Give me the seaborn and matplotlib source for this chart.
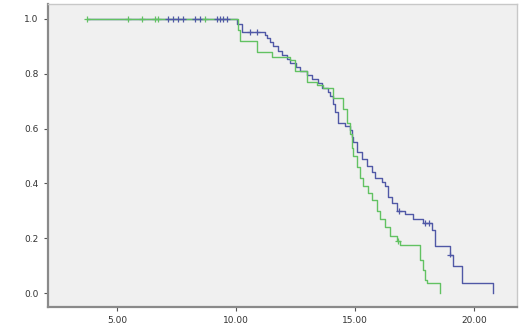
import matplotlib
matplotlib.use('Agg')
import matplotlib.pyplot as plt
import numpy as np
import pandas as pd
import seaborn as sns

# survival steps (time, cumulative survival after the step)
blue_time = [3.78, 10.04, 10.25, 11.22, 11.30, 11.43, 11.55, 11.76, 11.93, 12.14, 12.27,
             12.52, 12.69, 12.98, 13.19, 13.45, 13.61, 13.87, 13.95, 14.08, 14.16, 14.29,
             14.58, 14.79, 14.87, 14.92, 15.08, 15.29, 15.50, 15.71, 15.84, 16.13, 16.26,
             16.39, 16.55, 16.76, 17.10, 17.44, 17.86, 18.24, 18.36, 18.99, 19.12, 19.50, 20.80]
blue_surv = [1.0, 0.98, 0.953, 0.94, 0.93, 0.915, 0.90, 0.885, 0.87, 0.855, 0.84,
             0.825, 0.81, 0.795, 0.78, 0.765, 0.75, 0.735, 0.72, 0.69, 0.66, 0.62,
             0.61, 0.595, 0.57, 0.55, 0.515, 0.49, 0.465, 0.44, 0.42, 0.405, 0.39,
             0.35, 0.33, 0.30, 0.29, 0.27, 0.255, 0.23, 0.17, 0.14, 0.10, 0.036, 0.0]

green_time = [3.74, 10.08, 10.17, 10.88, 11.51, 12.27, 12.48, 12.98, 13.40, 13.66, 14.08,
              14.50, 14.66, 14.79, 14.87, 14.92, 15.08, 15.21, 15.34, 15.55, 15.71, 15.92,
              16.05, 16.26, 16.47, 16.76, 16.89, 17.73, 17.86, 17.94, 18.03, 18.57]
green_surv = [1.0, 0.96, 0.92, 0.88, 0.86, 0.85, 0.81, 0.77, 0.76, 0.75, 0.71,
              0.67, 0.62, 0.58, 0.53, 0.50, 0.46, 0.42, 0.39, 0.365, 0.34, 0.30,
              0.27, 0.24, 0.21, 0.19, 0.175, 0.12, 0.085, 0.047, 0.036, 0.0]

# censored cases
blue_cens_time = [7.14, 7.35, 7.56, 7.77, 8.28, 8.49, 9.20, 9.33, 9.45, 9.62, 10.6, 10.9,
                  16.85, 17.95, 18.1, 19.0]
blue_cens_surv = [1.0, 1.0, 1.0, 1.0, 1.0, 1.0, 1.0, 1.0, 1.0, 1.0, 0.953, 0.953,
                  0.30, 0.255, 0.255, 0.14]
green_cens_time = [3.74, 5.46, 6.05, 6.60, 6.72, 8.70, 16.80]
green_cens_surv = [1.0, 1.0, 1.0, 1.0, 1.0, 1.0, 0.19]

xticks = [5, 10, 15, 20]
yticks = [0.0, 0.2, 0.4, 0.6, 0.8, 1.0]

blue = '#5058a6'
green = '#62c262'

steps = pd.concat([
    pd.DataFrame({'time': blue_time, 'surv': blue_surv, 'group': 'b'}),
    pd.DataFrame({'time': green_time, 'surv': green_surv, 'group': 'g'}),
], ignore_index=True)
cens = pd.concat([
    pd.DataFrame({'time': blue_cens_time, 'surv': blue_cens_surv, 'group': 'b'}),
    pd.DataFrame({'time': green_cens_time, 'surv': green_cens_surv, 'group': 'g'}),
], ignore_index=True)
pal = {'b': blue, 'g': green}

fig = plt.figure(figsize=(5.2, 3.27), dpi=100)
fig.patch.set_facecolor('white')
ax = fig.add_axes([0.092, 0.061, 0.902, 0.927])
ax.set_facecolor('#f0f0f0')

sns.lineplot(data=steps, x='time', y='surv', hue='group', palette=pal, estimator=None,
             sort=False, drawstyle='steps-post', linewidth=1.0, legend=False, ax=ax)
sns.scatterplot(data=cens, x='time', y='surv', hue='group', palette=pal, marker='+',
                s=16, linewidth=0.9, legend=False, ax=ax, zorder=3)

ax.set_xlim(2.1, 21.8)
ax.set_ylim(-0.051, 1.055)
ax.set_xticks(xticks)
ax.set_xticklabels([f'{v:.2f}' for v in xticks])
ax.set_yticks(yticks)
ax.set_yticklabels([f'{v:.1f}' for v in yticks])
ax.set_xlabel('')
ax.set_ylabel('')
ax.tick_params(labelsize=6.5, colors='#555555', labelcolor='#333333', length=3, width=0.8)

for side in ['left', 'bottom']:
    ax.spines[side].set_color('#8a8a8a')
    ax.spines[side].set_linewidth(1.6)
for side in ['top', 'right']:
    ax.spines[side].set_color('#c8c8c8')
    ax.spines[side].set_linewidth(1.0)

fig.savefig('out.png', dpi=100)
plt.close(fig)
